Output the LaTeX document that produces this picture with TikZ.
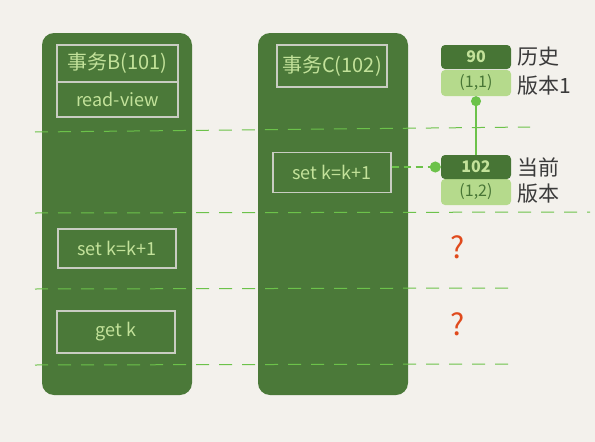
\documentclass[tikz,border=0pt]{standalone}
\usepackage{fontspec}
\setmainfont{Noto Sans CJK SC}
\usetikzlibrary{arrows.meta}
\definecolor{bg}{HTML}{F3F1EC}
\definecolor{colgreen}{HTML}{4B7939}
\definecolor{txtgreen}{HTML}{C3E29A}
\definecolor{boxline}{HTML}{C9CDC2}
\definecolor{dashgreen}{HTML}{6CC24A}
\definecolor{verdark}{HTML}{477535}
\definecolor{verlight}{HTML}{B5DA8C}
\definecolor{qred}{HTML}{E04A1C}
\definecolor{labgray}{HTML}{3A3A3A}
\tikzset{
  column/.style={fill=colgreen, rounded corners=12pt, draw=none},
  inbox/.style={draw=boxline, line width=1.2pt, text=txtgreen, font=\fontsize{18}{21}\selectfont},
  titlebox/.style={inbox, font=\fontsize{20}{23}\selectfont},
  sepline/.style={draw=dashgreen, line width=1pt, dash pattern=on 13pt off 10pt},
  verdarkbox/.style={fill=verdark, rounded corners=4pt, text=txtgreen, font=\fontsize{16}{18}\selectfont\bfseries, minimum width=70pt, minimum height=24pt, inner sep=0pt},
  verlightbox/.style={fill=verlight, rounded corners=4pt, text=verdark, font=\fontsize{16}{18}\selectfont, minimum width=70pt, minimum height=26pt, inner sep=0pt},
  verlabel/.style={text=labgray, font=\fontsize{21}{24}\selectfont, align=left, anchor=west, inner sep=0pt},
  qmark/.style={text=qred, font=\fontsize{30}{32}\selectfont},
  link/.style={draw=dashgreen, line width=1.4pt},
}
\begin{document}
\begin{tikzpicture}[x=1pt,y=-1pt]
\fill[bg] (0,0) rectangle (595,442);
\useasboundingbox (0,0) rectangle (595,442);
% columns
\node[column, minimum width=150pt, minimum height=362pt, inner sep=0pt] (colB) at (117,214) {};
\node[column, minimum width=150pt, minimum height=362pt, inner sep=0pt] (colC) at (333,214) {};
% B title
\node[titlebox, minimum width=121pt, minimum height=37pt, inner sep=0pt] (Btitle) at (117.5,63.5) {事务B(101)};
\node[inbox, minimum width=121pt, minimum height=35pt, inner sep=0pt] (Brv) at (117.5,99.5) {read-view};
% C title
\node[titlebox, minimum width=110pt, minimum height=42pt, inner sep=0pt] (Ctitle) at (332,66) {事务C(102)};
% dashed separators
\coordinate (d1a) at (35,132); \coordinate (d1b) at (530,127);
\coordinate (d2a) at (35,213); \coordinate (d2b) at (590,212);
\coordinate (d3a) at (35,289); \coordinate (d3b) at (510,288);
\coordinate (d4a) at (35,365); \coordinate (d4b) at (510,364);
\draw[sepline] (d1a) -- (d1b);
\draw[sepline] (d2a) -- (d2b);
\draw[sepline] (d3a) -- (d3b);
\draw[sepline] (d4a) -- (d4b);
% statements
\node[inbox, minimum width=118pt, minimum height=40pt, inner sep=0pt] (Cset) at (332,172.5) {set k=k+1};
\node[inbox, minimum width=118pt, minimum height=39pt, inner sep=0pt] (Bset) at (117,248.5) {set k=k+1};
\node[inbox, minimum width=118pt, minimum height=42pt, inner sep=0pt] (Bget) at (116,332) {get k};
% versions
\node[verlightbox] (v1low) at (476,83) {(1,1)};
\node[verdarkbox] (v1top) at (476,57) {90};
\node[verlightbox] (v2low) at (476,192) {(1,2)};
\node[verdarkbox] (v2top) at (476,167) {102};
\node[verlabel] (lab1a) at (517,57) {历史};
\node[verlabel] (lab1b) at (517,86) {版本1};
\node[verlabel] (lab2a) at (517,167) {当前};
\node[verlabel] (lab2b) at (517,194) {版本};
% links
\draw[link, -{Circle[length=10pt]}] (v2top.north) -- (v1low.south);
\draw[link, dash pattern=on 7pt off 5pt, -{Circle[length=11pt]}] (Cset.east |- v2top.west) -- (v2top.west);
% question marks
\node[qmark] (q1) at (458,247) {?};
\node[qmark] (q2) at (458,324) {?};
\end{tikzpicture}
\end{document}
